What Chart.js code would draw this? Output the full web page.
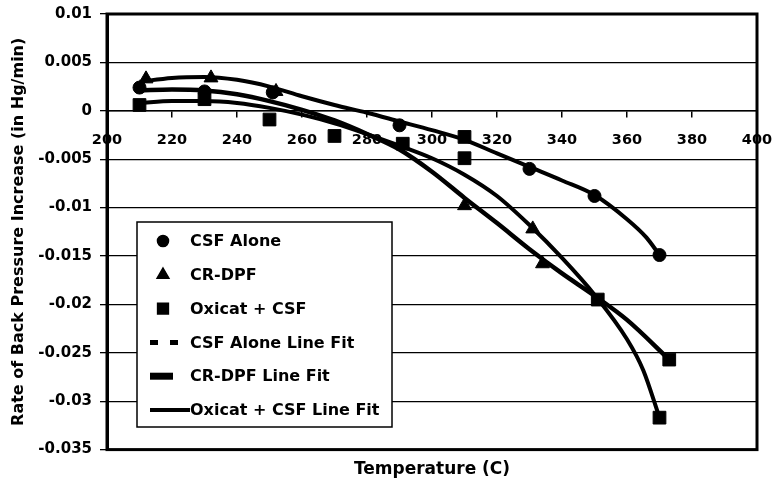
<!DOCTYPE html>
<html>
<head>
<meta charset="utf-8">
<script src="https://cdn.jsdelivr.net/npm/chart.js@4.4.1/dist/chart.umd.min.js"></script>
<style>
  html, body { margin: 0; padding: 0; background: #fff; }
  #wrap { width: 778px; height: 496px; }
  canvas { display: block; }
</style>
</head>
<body>
<div id="wrap"><canvas id="chart" width="778" height="496"></canvas></div>
<script>
// Tick labels
const xTickLabels = ['200', '220', '240', '260', '280', '300', '320', '340', '360', '380', '400'];
const yTickLabels = ['0.01', '0.005', '0', '-0.005', '-0.01', '-0.015', '-0.02', '-0.025', '-0.03', '-0.035'];

// Series names
const seriesNames = ['CSF Alone', 'CR-DPF', 'Oxicat + CSF',
  'CSF Alone Line Fit', 'CR-DPF Line Fit', 'Oxicat + CSF Line Fit'];

// Measured points: temperature (C) and rate (in Hg/min)
const csfTemp = [210, 230, 251, 290, 330, 350, 370];
const csfRate = [0.0024, 0.0020, 0.0019, -0.0015, -0.0060, -0.0088, -0.0149];

const crdpfTemp = [212, 232, 252, 310, 331, 334];
const crdpfRate = [0.0033, 0.0034, 0.0020, -0.0098, -0.0122, -0.0158];

const oxiTemp = [210, 230, 250, 270, 291, 310, 310, 351, 370, 373];
const oxiRate = [0.0006, 0.0012, -0.0009, -0.0026, -0.0034, -0.0027, -0.0049, -0.0195, -0.0317, -0.0257];

// Fitted curves
const csfFitTemp = [210, 220, 230, 240, 250, 260, 270, 280, 290, 300, 310, 320, 330, 340, 350, 360, 366, 370];
const csfFitRate = [0.0030, 0.0034, 0.0035, 0.0032, 0.0025, 0.0015, 0.0006, -0.0002, -0.0011, -0.0020, -0.0030, -0.0044, -0.0058, -0.0072, -0.0087, -0.0112, -0.0131, -0.0149];

const crdpfFitTemp = [210, 220, 230, 240, 250, 260, 270, 280, 290, 300, 310, 320, 330, 340, 350, 360, 373];
const crdpfFitRate = [0.0021, 0.0022, 0.0021, 0.0017, 0.0010, 0.0001, -0.0010, -0.0024, -0.0040, -0.0063, -0.0090, -0.0116, -0.0143, -0.0168, -0.0191, -0.0216, -0.0257];

const oxiFitTemp = [210, 220, 230, 240, 250, 260, 270, 280, 290, 300, 310, 320, 330, 340, 350, 360, 365, 370];
const oxiFitRate = [0.0008, 0.0010, 0.0010, 0.0008, 0.0003, -0.0004, -0.0013, -0.0024, -0.0036, -0.0049, -0.0066, -0.0088, -0.0118, -0.0152, -0.0190, -0.0236, -0.0268, -0.0317];

const pts = (xs, ys) => xs.map((x, i) => ({ x: x, y: ys[i] }));

const FONT = 'DejaVu Sans';

// Frame around the plot area
const framePlugin = {
  id: 'frame',
  afterDatasetsDraw(chart) {
    const { ctx, chartArea: a } = chart;
    ctx.save();
    ctx.strokeStyle = '#000';
    ctx.lineWidth = 3;
    ctx.strokeRect(a.left, a.top, a.right - a.left, a.bottom - a.top);
    ctx.restore();
  }
};

// Boxed legend placed inside the plot
const boxLegendPlugin = {
  id: 'boxLegend',
  afterDraw(chart) {
    const { ctx, chartArea: a } = chart;
    const left = a.left + 30, top = a.top + 208, w = 255, h = 205;
    const rowTop = top + 19, rowStep = 33.8;
    const markX = left + 26, textX = left + 53;
    ctx.save();
    ctx.fillStyle = '#fff';
    ctx.fillRect(left, top, w, h);
    ctx.strokeStyle = '#000';
    ctx.lineWidth = 1.5;
    ctx.strokeRect(left, top, w, h);
    chart.data.datasets.forEach((ds, i) => {
      const y = rowTop + i * rowStep;
      if (ds.showLine) {
        ctx.save();
        ctx.strokeStyle = '#000';
        ctx.lineWidth = ds.legendLineWidth;
        ctx.setLineDash(ds.legendDash || []);
        ctx.beginPath();
        ctx.moveTo(left + 13, y);
        ctx.lineTo(left + 13 + ds.legendLength, y);
        ctx.stroke();
        ctx.restore();
      } else {
        Chart.helpers.drawPoint(ctx, {
          pointStyle: ds.pointStyle,
          radius: ds.pointRadius * 0.85,
          borderWidth: 1
        }, markX, y);
        ctx.fillStyle = '#000';
        ctx.fill();
      }
      ctx.fillStyle = '#000';
      ctx.font = 'bold 16px "' + FONT + '"';
      ctx.textBaseline = 'middle';
      ctx.textAlign = 'left';
      ctx.fillText(ds.label, textX, y + 1);
    });
    ctx.restore();
  }
};

const markerSet = (i, xs, ys, style, r) => ({
  label: seriesNames[i],
  data: pts(xs, ys),
  showLine: false,
  pointStyle: style,
  pointRadius: r,
  pointBackgroundColor: '#000',
  pointBorderColor: '#000',
  pointBorderWidth: 1
});

const fitSet = (i, xs, ys, width, legend) => Object.assign({
  label: seriesNames[i],
  data: pts(xs, ys),
  showLine: true,
  borderColor: '#000',
  borderWidth: width,
  pointRadius: 0,
  cubicInterpolationMode: 'monotone',
  fill: false
}, legend);

new Chart(document.getElementById('chart'), {
  type: 'scatter',
  data: {
    datasets: [
      markerSet(0, csfTemp, csfRate, 'circle', 6.5),
      markerSet(1, crdpfTemp, crdpfRate, 'triangle', 8),
      markerSet(2, oxiTemp, oxiRate, 'rect', 9),
      fitSet(3, csfFitTemp, csfFitRate, 4, { legendLineWidth: 5, legendDash: [8, 12], legendLength: 30 }),
      fitSet(4, crdpfFitTemp, crdpfFitRate, 4.5, { legendLineWidth: 7, legendLength: 23 }),
      fitSet(5, oxiFitTemp, oxiFitRate, 4, { legendLineWidth: 4, legendLength: 40 })
    ]
  },
  options: {
    responsive: false,
    animation: false,
    devicePixelRatio: 1,
    layout: { padding: { left: 0, right: 21, top: 14, bottom: 0 } },
    plugins: {
      legend: { display: false },
      tooltip: { enabled: false },
      title: {
        display: true,
        position: 'bottom',
        fullSize: false,
        text: 'Temperature (C)',
        color: '#000',
        font: { family: FONT, size: 17, weight: 'bold', lineHeight: 1.2 },
        padding: { top: 10, bottom: 16 }
      }
    },
    scales: {
      x: {
        type: 'linear',
        position: { y: 0 },
        min: 200,
        max: 400,
        afterBuildTicks(scale) {
          scale.ticks = xTickLabels.map(s => ({ value: parseFloat(s) }));
        },
        afterFit(scale) { scale.paddingLeft = 0; scale.paddingRight = 0; },
        ticks: {
          color: '#000',
          padding: 15,
          maxRotation: 0,
          autoSkip: false,
          font: { family: FONT, size: 14.5, weight: 'bold' },
          callback: (v) => xTickLabels.find(s => Math.abs(parseFloat(s) - v) < 1e-9)
        },
        grid: { drawOnChartArea: false, drawTicks: true, tickLength: 6, color: '#000', lineWidth: 1.5 },
        border: { display: true, color: '#000', width: 1.5 }
      },
      y: {
        type: 'linear',
        position: 'left',
        min: -0.035,
        max: 0.01,
        afterBuildTicks(scale) {
          scale.ticks = yTickLabels.map(s => ({ value: parseFloat(s) })).sort((p, q) => p.value - q.value);
        },
        afterFit(scale) { scale.width = 107; scale.paddingTop = 0; scale.paddingBottom = 0; },
        ticks: {
          color: '#000',
          padding: 8,
          autoSkip: false,
          font: { family: FONT, size: 15, weight: 'bold' },
          callback: (v) => yTickLabels.find(s => Math.abs(parseFloat(s) - v) < 1e-9)
        },
        grid: { color: '#000', lineWidth: 1.3, tickLength: 7, drawTicks: true },
        border: { display: true, color: '#000', width: 3 },
        title: {
          display: true,
          text: 'Rate of Back Pressure Increase (in Hg/min)',
          color: '#000',
          font: { family: FONT, size: 16, weight: 'bold', lineHeight: 1.2 },
          padding: { top: 9, bottom: 0 }
        }
      }
    }
  },
  plugins: [framePlugin, boxLegendPlugin]
});
</script>
</body>
</html>
